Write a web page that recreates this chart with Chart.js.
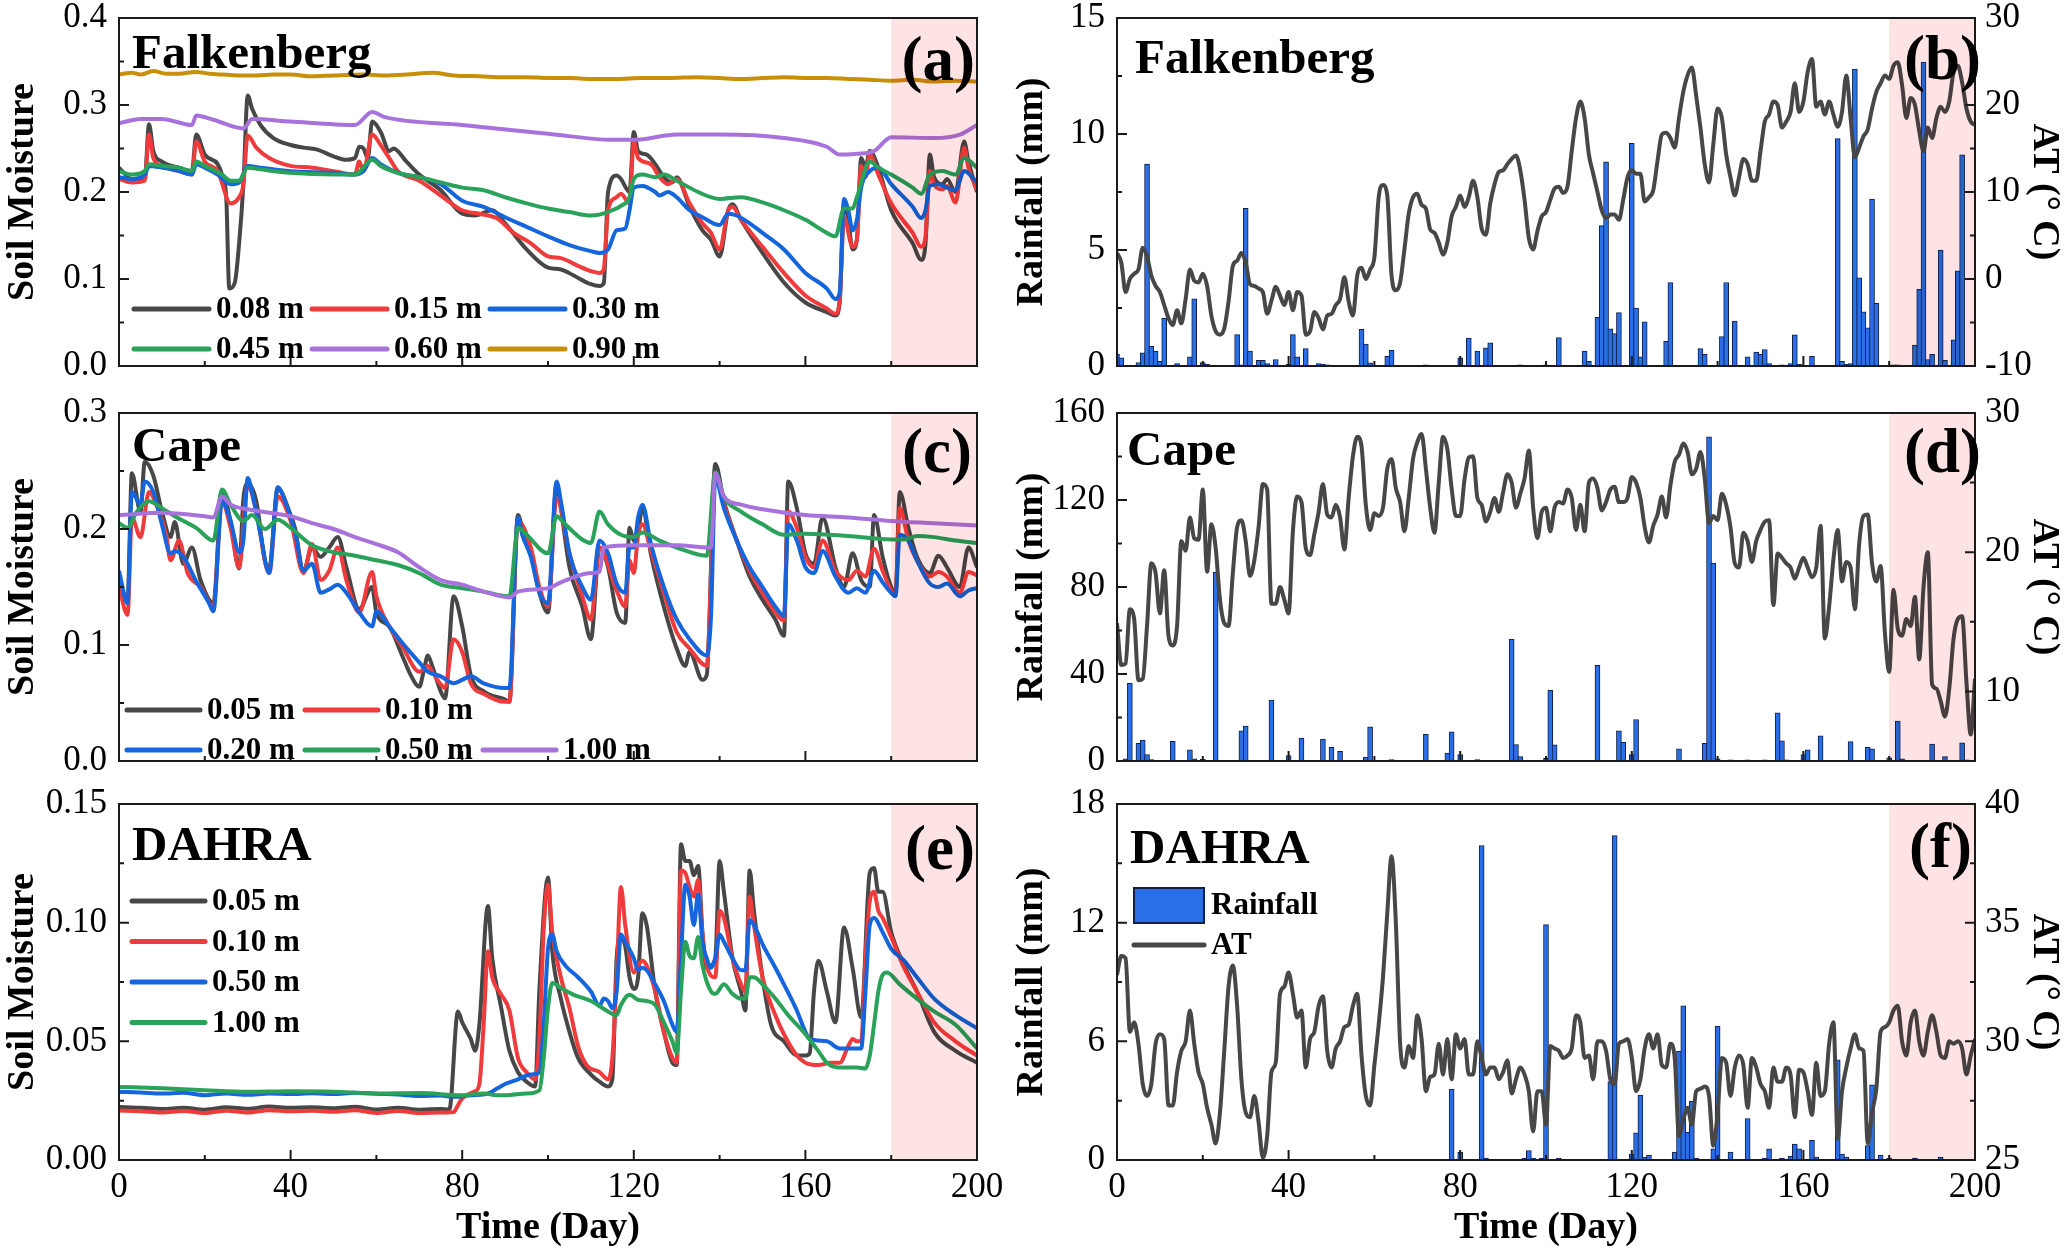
<!DOCTYPE html>
<html>
<head>
<meta charset="utf-8">
<title>Soil moisture, rainfall and air temperature</title>
<script src="https://cdn.jsdelivr.net/npm/chart.js@4.4.1/dist/chart.umd.min.js"></script>
<style>
  html, body { margin: 0; padding: 0; background: #fff; }
  body { width: 2067px; height: 1248px; position: relative; overflow: hidden; }
  canvas { position: absolute; }
</style>
</head>
<body>
<canvas id="pa"></canvas>
<canvas id="pb"></canvas>
<canvas id="pc"></canvas>
<canvas id="pd"></canvas>
<canvas id="pe"></canvas>
<canvas id="pf"></canvas>
<script>
// --- Data: [day, value] pairs ---

const fkDepths = ['0.08 m', '0.15 m', '0.30 m', '0.45 m', '0.60 m', '0.90 m'];
const cpDepths = ['0.05 m', '0.10 m', '0.20 m', '0.50 m', '1.00 m'];
const dhDepths = ['0.05 m', '0.10 m', '0.50 m', '1.00 m'];

// Falkenberg soil moisture
const fk08 = [[0,0.228],[3,0.215],[6,0.215],[7,0.278],[8,0.247],[10,0.235],[14,0.228],[17,0.224],[18,0.266],[20,0.243],[23,0.232],[24,0.220],[25,0.194],[25.7,0.089],[27,0.096],[28,0.141],[29,0.209],[30,0.311],[31,0.296],[33,0.277],[36,0.262],[40,0.254],[43,0.251],[46,0.249],[50,0.241],[53,0.237],[55,0.239],[56,0.252],[57,0.250],[58,0.239],[59,0.281],[61,0.269],[63,0.247],[64,0.250],[67,0.235],[70,0.220],[75,0.202],[80,0.175],[83,0.173],[87,0.179],[90,0.164],[95,0.134],[100,0.113],[103,0.111],[106,0.104],[110,0.094],[112,0.092],[113,0.095],[114,0.200],[116,0.219],[117,0.215],[119,0.200],[120,0.269],[121,0.247],[123,0.243],[125,0.232],[127,0.217],[129,0.211],[130,0.217],[133,0.183],[136,0.156],[138,0.145],[140,0.126],[142,0.179],[143,0.186],[145,0.168],[150,0.130],[155,0.096],[160,0.073],[165,0.062],[167,0.058],[168,0.073],[169,0.186],[170,0.168],[171,0.134],[172,0.145],[173,0.239],[174,0.228],[175,0.247],[177,0.228],[180,0.179],[185,0.141],[187,0.122],[188,0.141],[189,0.243],[190,0.217],[192,0.209],[193,0.215],[195,0.200],[197,0.258],[198,0.235],[200,0.200]];
const fk15 = [[0,0.215],[3,0.211],[6,0.213],[7,0.266],[8,0.239],[10,0.230],[14,0.224],[17,0.220],[18,0.258],[20,0.235],[23,0.224],[26,0.187],[28,0.194],[29,0.209],[30,0.265],[32,0.251],[35,0.239],[40,0.230],[45,0.228],[50,0.224],[55,0.220],[56,0.235],[57,0.224],[59,0.266],[61,0.254],[63,0.239],[65,0.224],[70,0.213],[75,0.196],[80,0.179],[84,0.175],[88,0.170],[92,0.153],[96,0.141],[100,0.126],[103,0.124],[107,0.115],[110,0.109],[112,0.107],[113,0.111],[114,0.179],[116,0.194],[117,0.198],[119,0.187],[120,0.258],[121,0.239],[124,0.232],[126,0.217],[128,0.209],[130,0.215],[133,0.187],[136,0.164],[138,0.153],[140,0.134],[142,0.179],[143,0.183],[145,0.168],[150,0.137],[155,0.107],[160,0.081],[165,0.066],[167,0.060],[168,0.077],[169,0.171],[171,0.137],[172,0.145],[173,0.230],[174,0.217],[175,0.243],[177,0.220],[180,0.187],[185,0.153],[187,0.137],[188,0.149],[189,0.224],[190,0.209],[192,0.203],[193,0.207],[195,0.188],[197,0.251],[198,0.228],[200,0.202]];
const fk30 = [[0,0.217],[3,0.215],[6,0.220],[7,0.230],[10,0.228],[14,0.224],[17,0.220],[18,0.232],[20,0.228],[23,0.220],[26,0.209],[28,0.211],[30,0.230],[33,0.228],[40,0.224],[50,0.222],[55,0.220],[57,0.224],[59,0.239],[61,0.232],[65,0.222],[70,0.217],[75,0.209],[80,0.190],[85,0.183],[90,0.171],[95,0.160],[100,0.149],[105,0.139],[110,0.132],[112,0.130],[114,0.134],[116,0.156],[118,0.158],[119,0.179],[120,0.205],[122,0.207],[125,0.200],[126,0.196],[128,0.200],[130,0.194],[133,0.179],[136,0.171],[140,0.162],[142,0.175],[144,0.173],[147,0.164],[150,0.153],[155,0.134],[160,0.107],[165,0.089],[167,0.077],[168,0.085],[169,0.192],[170,0.179],[171,0.156],[172,0.168],[173,0.205],[175,0.224],[177,0.228],[180,0.209],[185,0.183],[187,0.170],[188,0.179],[189,0.207],[191,0.209],[193,0.205],[195,0.202],[197,0.224],[200,0.211]];
const fk45 = [[0,0.224],[3,0.220],[6,0.224],[7,0.232],[10,0.230],[14,0.228],[17,0.224],[18,0.235],[20,0.230],[24,0.220],[26,0.213],[28,0.213],[30,0.228],[33,0.226],[40,0.222],[50,0.220],[55,0.220],[59,0.237],[61,0.230],[65,0.222],[70,0.217],[75,0.211],[80,0.205],[85,0.202],[90,0.194],[95,0.187],[100,0.181],[105,0.177],[110,0.173],[112,0.174],[115,0.179],[117,0.184],[119,0.194],[120,0.215],[122,0.220],[125,0.217],[127,0.220],[130,0.213],[135,0.200],[140,0.192],[145,0.194],[150,0.188],[155,0.179],[160,0.168],[165,0.153],[167,0.149],[169,0.181],[171,0.181],[172,0.194],[175,0.235],[177,0.228],[180,0.220],[185,0.205],[187,0.198],[189,0.220],[192,0.224],[195,0.220],[197,0.239],[200,0.228]];
const fk60 = [[0,0.279],[5,0.284],[10,0.284],[17,0.277],[18,0.288],[22,0.283],[29,0.273],[31,0.284],[40,0.281],[55,0.277],[59,0.292],[62,0.286],[80,0.277],[100,0.267],[115,0.260],[120,0.260],[130,0.266],[140,0.266],[155,0.262],[165,0.252],[168,0.243],[172,0.244],[176,0.247],[180,0.263],[190,0.262],[196,0.266],[200,0.277]];
const fk90 = [[0,0.335],[3,0.337],[5,0.335],[8,0.339],[11,0.336],[14,0.336],[18,0.338],[21,0.336],[24,0.335],[28,0.334],[32,0.334],[36,0.335],[40,0.335],[45,0.333],[50,0.334],[57,0.335],[62,0.334],[67,0.335],[73,0.337],[78,0.334],[84,0.333],[90,0.332],[95,0.332],[100,0.331],[105,0.331],[110,0.330],[116,0.330],[122,0.331],[128,0.331],[135,0.332],[140,0.331],[145,0.330],[150,0.331],[155,0.332],[160,0.331],[165,0.331],[170,0.330],[175,0.329],[180,0.328],[185,0.329],[190,0.327],[195,0.328],[200,0.327]];

// Cape soil moisture
const cp05 = [[0,0.156],[2,0.139],[3,0.248],[5,0.215],[6,0.258],[8,0.246],[10,0.215],[12,0.193],[13,0.206],[15,0.170],[17,0.184],[19,0.156],[22,0.136],[24,0.231],[26,0.207],[28,0.166],[29,0.226],[30,0.239],[32,0.224],[34,0.173],[35,0.166],[37,0.235],[40,0.212],[41,0.201],[43,0.164],[45,0.184],[47,0.176],[49,0.184],[51,0.193],[53,0.167],[56,0.131],[59,0.150],[60,0.128],[63,0.116],[66,0.091],[68,0.074],[70,0.064],[71,0.077],[72,0.091],[73,0.082],[75,0.060],[76,0.054],[78,0.142],[80,0.116],[82,0.074],[85,0.060],[90,0.053],[91,0.051],[93,0.212],[94,0.201],[96,0.181],[98,0.145],[100,0.128],[102,0.238],[103,0.218],[105,0.167],[108,0.133],[110,0.105],[112,0.184],[114,0.167],[116,0.128],[118,0.119],[119,0.201],[120,0.190],[121,0.198],[122,0.218],[124,0.178],[127,0.133],[130,0.097],[132,0.082],[133,0.094],[136,0.070],[137,0.074],[139,0.256],[141,0.224],[144,0.190],[147,0.159],[150,0.139],[153,0.122],[155,0.108],[156,0.241],[158,0.218],[160,0.179],[162,0.170],[164,0.210],[167,0.167],[169,0.150],[171,0.179],[173,0.156],[175,0.150],[176,0.212],[178,0.176],[180,0.150],[181,0.144],[182,0.232],[184,0.201],[186,0.176],[189,0.162],[191,0.177],[193,0.167],[196,0.150],[198,0.184],[200,0.167]];
const cp10 = [[0,0.150],[2,0.126],[3,0.210],[5,0.193],[7,0.232],[9,0.218],[11,0.195],[12,0.173],[14,0.190],[16,0.162],[19,0.150],[22,0.133],[24,0.224],[26,0.201],[28,0.167],[30,0.238],[32,0.215],[35,0.162],[37,0.228],[40,0.207],[43,0.162],[45,0.187],[47,0.156],[49,0.164],[51,0.184],[53,0.156],[56,0.128],[59,0.163],[60,0.142],[63,0.116],[66,0.099],[70,0.077],[72,0.082],[73,0.077],[75,0.066],[76,0.063],[78,0.105],[80,0.094],[82,0.067],[85,0.058],[90,0.051],[91,0.051],[93,0.207],[96,0.184],[98,0.150],[100,0.133],[102,0.227],[105,0.179],[108,0.142],[110,0.122],[112,0.184],[116,0.147],[118,0.133],[119,0.173],[120,0.162],[121,0.195],[122,0.204],[124,0.181],[127,0.145],[130,0.111],[133,0.097],[137,0.082],[139,0.246],[141,0.221],[144,0.190],[147,0.164],[150,0.145],[153,0.128],[155,0.121],[156,0.215],[158,0.201],[160,0.176],[162,0.167],[164,0.190],[167,0.164],[170,0.156],[172,0.164],[174,0.159],[176,0.183],[178,0.164],[180,0.147],[181,0.144],[182,0.218],[184,0.190],[186,0.173],[189,0.159],[191,0.163],[193,0.159],[196,0.145],[198,0.163],[200,0.160]];
const cp20 = [[0,0.164],[2,0.136],[3,0.232],[5,0.221],[6,0.241],[8,0.232],[10,0.204],[12,0.179],[13,0.181],[15,0.176],[18,0.155],[21,0.136],[22,0.129],[24,0.224],[26,0.207],[28,0.180],[29,0.190],[30,0.244],[31,0.232],[33,0.195],[35,0.162],[37,0.236],[39,0.221],[41,0.198],[43,0.164],[45,0.170],[47,0.145],[49,0.148],[51,0.152],[53,0.145],[56,0.128],[59,0.116],[60,0.129],[63,0.116],[66,0.102],[70,0.085],[72,0.077],[75,0.073],[78,0.067],[80,0.070],[82,0.073],[85,0.067],[90,0.063],[91,0.063],[93,0.210],[94,0.195],[96,0.176],[98,0.145],[100,0.136],[102,0.241],[103,0.224],[105,0.179],[108,0.150],[110,0.139],[112,0.190],[114,0.179],[116,0.153],[118,0.145],[119,0.184],[120,0.184],[121,0.210],[122,0.221],[124,0.187],[127,0.150],[130,0.122],[133,0.105],[137,0.091],[138,0.125],[139,0.244],[141,0.218],[144,0.190],[147,0.167],[150,0.150],[153,0.133],[155,0.125],[156,0.204],[158,0.190],[160,0.167],[162,0.162],[164,0.181],[167,0.159],[170,0.145],[172,0.149],[174,0.145],[176,0.164],[178,0.154],[180,0.145],[181,0.142],[182,0.195],[184,0.190],[186,0.173],[189,0.153],[191,0.150],[193,0.153],[196,0.142],[198,0.147],[200,0.149]];
const cp50 = [[0,0.205],[2,0.201],[4,0.214],[7,0.224],[10,0.218],[13,0.211],[18,0.201],[22,0.190],[24,0.234],[26,0.221],[29,0.207],[31,0.212],[34,0.200],[37,0.208],[40,0.201],[45,0.186],[50,0.180],[55,0.177],[60,0.173],[65,0.169],[70,0.162],[75,0.152],[80,0.149],[85,0.146],[91,0.142],[93,0.201],[95,0.195],[100,0.179],[102,0.211],[104,0.204],[110,0.188],[112,0.215],[114,0.204],[117,0.195],[120,0.193],[122,0.197],[126,0.190],[130,0.184],[137,0.177],[139,0.249],[141,0.228],[145,0.215],[150,0.204],[155,0.195],[160,0.196],[170,0.194],[180,0.191],[183,0.191],[186,0.194],[190,0.193],[195,0.190],[200,0.188]];
const cp100 = [[0,0.212],[10,0.214],[20,0.211],[22,0.210],[24,0.228],[26,0.221],[30,0.217],[40,0.211],[45,0.205],[50,0.200],[55,0.193],[60,0.187],[65,0.180],[70,0.167],[75,0.156],[80,0.152],[85,0.146],[91,0.141],[93,0.146],[100,0.149],[103,0.154],[110,0.162],[112,0.163],[113,0.184],[120,0.186],[130,0.186],[138,0.184],[139,0.248],[141,0.228],[145,0.221],[150,0.217],[160,0.212],[170,0.210],[180,0.207],[190,0.205],[200,0.203]];

// DAHRA soil moisture
const dh05 = [[0,0.0223],[5,0.0220],[10,0.0215],[15,0.0220],[20,0.0212],[25,0.0222],[30,0.0216],[35,0.0225],[40,0.0220],[45,0.0222],[50,0.0218],[55,0.0224],[60,0.0213],[65,0.0220],[70,0.0212],[75,0.0215],[77,0.0212],[79,0.0626],[80,0.058],[82,0.051],[83,0.046],[84,0.057],[86,0.107],[87,0.085],[89,0.065],[91,0.046],[93,0.037],[95,0.033],[97,0.031],[98,0.072],[100,0.119],[101,0.088],[103,0.068],[105,0.054],[107,0.043],[110,0.036],[112,0.033],[114,0.031],[115,0.034],[116,0.085],[117,0.094],[118,0.090],[119,0.077],[120,0.072],[121,0.077],[122,0.104],[123,0.099],[125,0.071],[127,0.054],[129,0.041],[130,0.040],[131,0.133],[132,0.126],[133,0.126],[134,0.120],[135,0.124],[136,0.096],[137,0.081],[139,0.085],[140,0.126],[141,0.113],[143,0.085],[145,0.071],[146,0.063],[147,0.122],[148,0.105],[150,0.077],[152,0.057],[155,0.050],[158,0.044],[160,0.044],[161,0.045],[162,0.071],[163,0.084],[165,0.071],[167,0.058],[169,0.098],[171,0.081],[173,0.060],[175,0.121],[176,0.123],[177,0.113],[178,0.113],[180,0.096],[183,0.082],[186,0.071],[190,0.054],[195,0.046],[200,0.041]];
const dh10 = [[0,0.0209],[5,0.0205],[10,0.0200],[15,0.0206],[20,0.0198],[25,0.0208],[30,0.0200],[35,0.0210],[40,0.0205],[45,0.0207],[50,0.0203],[55,0.0210],[60,0.0198],[65,0.0206],[70,0.0198],[75,0.0200],[78,0.0202],[79,0.0230],[80,0.026],[83,0.029],[84,0.032],[85,0.057],[86,0.088],[87,0.077],[89,0.070],[91,0.063],[93,0.043],[95,0.037],[97,0.034],[98,0.051],[99,0.097],[100,0.116],[101,0.096],[103,0.077],[105,0.064],[107,0.048],[109,0.040],[112,0.037],[114,0.034],[115,0.043],[116,0.077],[117,0.115],[118,0.099],[120,0.079],[121,0.082],[122,0.084],[123,0.082],[125,0.071],[127,0.054],[129,0.043],[130,0.041],[131,0.122],[132,0.121],[133,0.115],[134,0.111],[135,0.118],[136,0.095],[137,0.082],[139,0.077],[140,0.105],[141,0.102],[143,0.085],[145,0.074],[146,0.071],[147,0.111],[148,0.099],[150,0.077],[153,0.061],[155,0.053],[158,0.044],[160,0.041],[163,0.040],[166,0.041],[168,0.041],[170,0.048],[171,0.051],[172,0.050],[173,0.050],[174,0.085],[175,0.109],[176,0.113],[177,0.105],[178,0.102],[180,0.094],[183,0.081],[186,0.071],[190,0.058],[195,0.050],[200,0.044]];
const dh50 = [[0,0.0287],[5,0.0284],[10,0.0280],[15,0.0283],[20,0.0273],[25,0.0280],[30,0.0275],[35,0.0280],[40,0.0278],[45,0.0281],[50,0.0278],[55,0.0283],[60,0.0279],[65,0.0276],[70,0.0270],[75,0.0272],[78,0.0266],[82,0.0273],[86,0.0280],[88,0.030],[90,0.032],[93,0.034],[96,0.036],[98,0.037],[99,0.057],[100,0.089],[101,0.095],[102,0.088],[104,0.082],[107,0.077],[110,0.071],[112,0.065],[113,0.068],[114,0.067],[115,0.064],[116,0.071],[117,0.095],[118,0.092],[120,0.085],[121,0.080],[122,0.081],[123,0.080],[125,0.074],[127,0.067],[129,0.057],[130,0.054],[131,0.085],[132,0.116],[133,0.111],[134,0.099],[135,0.112],[136,0.092],[137,0.085],[138,0.081],[139,0.085],[140,0.095],[141,0.092],[143,0.085],[145,0.080],[146,0.080],[147,0.101],[148,0.099],[150,0.091],[153,0.081],[155,0.074],[158,0.063],[160,0.054],[161,0.051],[165,0.050],[168,0.047],[170,0.047],[173,0.047],[174,0.071],[175,0.099],[176,0.102],[178,0.096],[180,0.089],[183,0.084],[186,0.077],[190,0.068],[195,0.061],[200,0.0555]];
const dh100 = [[0,0.0308],[10,0.0302],[20,0.0294],[30,0.0288],[40,0.0290],[50,0.0288],[60,0.0280],[70,0.0282],[80,0.0273],[85,0.0280],[88,0.0273],[90,0.0273],[95,0.0280],[98,0.0294],[99,0.043],[100,0.064],[101,0.0746],[103,0.0725],[106,0.0696],[110,0.067],[114,0.0626],[116,0.061],[117,0.0653],[119,0.0696],[121,0.0675],[123,0.067],[125,0.0653],[127,0.058],[129,0.050],[130,0.045],[131,0.071],[132,0.092],[133,0.086],[134,0.085],[135,0.094],[136,0.082],[138,0.071],[139,0.070],[141,0.074],[143,0.070],[145,0.068],[146,0.068],[147,0.077],[148,0.077],[150,0.074],[153,0.068],[156,0.061],[160,0.053],[163,0.046],[165,0.041],[168,0.039],[172,0.039],[174,0.0386],[175,0.044],[176,0.057],[177,0.071],[178,0.078],[179,0.079],[182,0.074],[186,0.068],[190,0.0626],[195,0.057],[200,0.047]];

// Daily rainfall (mm), only days with rain
const rainFk = [[0,0.5],[1,0.35],[5,0.15],[6,0.57],[7,8.7],[8,0.85],[9,0.64],[10,0.2],[11,2.05],[14,0.1],[17,0.4],[18,2.9],[20,0.15],[21,0.08],[28,1.35],[29,0.05],[30,6.8],[31,0.64],[33,0.24],[34,0.24],[35,0.1],[37,0.28],[40,0.07],[41,1.35],[42,0.4],[44,0.75],[47,0.1],[48,0.07],[49,0.05],[57,1.58],[58,0.95],[59,0.14],[63,0.42],[64,0.68],[72,0.05],[80,0.35],[82,1.2],[84,0.64],[86,0.78],[87,1.0],[94,0.05],[100,0.05],[103,1.23],[109,0.64],[110,0.2],[112,2.1],[113,6.05],[114,8.8],[115,1.6],[116,1.4],[117,2.3],[120,9.6],[121,2.5],[122,0.4],[123,1.9],[128,1.06],[129,3.6],[136,0.75],[137,0.5],[141,1.27],[142,3.6],[144,1.94],[147,0.4],[149,0.6],[150,0.5],[151,0.71],[152,0.1],[155,0.05],[157,0.1],[158,1.34],[159,0.07],[162,0.42],[168,9.8],[169,0.2],[170,0.07],[171,0.1],[172,12.8],[173,3.8],[174,2.33],[175,1.65],[176,7.2],[177,2.7],[181,0.05],[182,0.05],[186,0.9],[187,3.3],[188,13.1],[189,0.28],[190,0.5],[192,5.0],[193,0.24],[195,1.13],[196,4.1],[197,9.1]];
const rainCp = [[2,1],[3,35.7],[5,8.1],[6,9.6],[7,3],[8,0.6],[13,9.0],[17,5.1],[18,1],[20,0.8],[23,86.9],[29,13.9],[30,16.1],[36,28.0],[40,2.5],[43,10.5],[48,10.1],[50,6.3],[52,4.4],[58,1.8],[59,15.7],[64,0.6],[72,12.3],[77,3.6],[78,13.4],[80,3.0],[84,0.6],[92,56],[93,7.5],[94,2],[100,1.2],[101,32.5],[102,7.4],[112,44],[117,13.9],[118,8.6],[120,3.0],[121,19.1],[131,5.6],[137,8.1],[138,149],[139,91],[140,1],[143,0.5],[147,0.5],[151,0.5],[154,22.1],[155,9.3],[156,0.5],[160,3.0],[161,5.1],[164,11.6],[171,8.9],[175,6.3],[176,5.6],[180,1.5],[182,18.4],[183,1],[190,7.8],[193,2],[197,8.3],[198,0.5]];
const rainDh = [[78,3.57],[80,0.4],[85,15.9],[86,0.1],[95,0.1],[96,0.48],[97,0.1],[99,0.1],[100,11.9],[103,0.1],[115,3.96],[116,16.4],[120,0.3],[121,1.37],[122,3.28],[123,0.15],[124,0.25],[130,0.4],[131,5.5],[132,7.8],[133,1.4],[134,2.97],[135,0.1],[139,0.56],[140,6.76],[143,0.4],[147,2.1],[151,0.1],[152,0.56],[155,0.1],[157,0.2],[158,0.8],[159,0.56],[162,1.0],[163,0.15],[168,5.06],[169,0.3],[170,0.15],[175,0.73],[176,3.8],[178,0.25],[180,0.1],[186,0.1],[192,0.15]];

// Daily air temperature (deg C), index = day 0..200
const atFk = [3.0,1.9,-1.5,0.0,0.6,1.1,3.6,2.6,0.4,-0.8,
  -1.5,-3.0,-4.5,-5.3,-3.6,-5.1,-2.3,1.1,-0.2,-0.4,
  0.6,-0.8,-4.2,-6.0,-6.4,-5.7,-2.6,1.5,2.1,3.0,
  1.9,-0.6,-0.8,-1.1,-1.5,-4.0,-2.5,-0.9,-1.9,-3.0,
  -1.5,-3.6,-1.5,-1.9,-6.4,-6.0,-3.8,-4.5,-5.8,-4.2,
  -4.0,-3.0,-2.3,0.2,-2.6,-4.2,0.4,1.3,0.0,1.1,
  2.5,9.4,10.8,9.6,0.4,-1.3,-0.4,3.4,7.5,9.4,
  9.8,8.5,8.1,5.7,5.3,4.2,2.8,4.2,7.2,8.3,
  9.6,8.3,9.4,11.3,9.4,5.8,5.1,8.7,10.9,12.3,
  12.5,13.2,13.8,14.2,12.5,9.1,4.7,3.4,5.5,7.2,
  7.7,9.1,10.4,10.6,9.9,10.6,14.7,18.5,20.4,18.5,
  14.3,12.1,10.0,7.9,7.0,7.4,7.4,6.8,9.1,11.7,
  12.5,12.1,12.1,8.9,9.4,10.2,13.6,16.6,16.8,16.2,
  15.1,18.5,21.5,23.4,24.3,21.1,17.4,13.2,11.1,15.5,
  19.6,18.5,14.3,11.7,9.6,11.7,13.8,13.2,11.3,11.3,
  14.7,18.1,18.9,20.4,20.0,17.4,18.1,19.2,22.5,19.2,
  20.4,23.8,25.3,19.8,20.4,18.9,20.4,18.9,17.5,19.2,
  23.4,18.5,14.0,15.1,16.4,17.2,19.6,21.5,22.5,23.4,
  23.0,24.5,24.9,22.3,18.5,20.8,20.0,17.0,14.7,17.4,
  16.2,18.5,19.8,19.2,20.4,23.8,24.5,22.6,19.6,18.1,17.7];
const atCp = [14.9,11.9,12.0,15.9,15.2,10.8,10.9,14.7,19.2,18.5,
  15.6,18.7,14.0,13.3,14.7,20.8,20.1,22.5,21.0,20.9,
  24.5,18.6,22.0,20.3,16.6,14.9,14.7,18.5,21.8,22.3,
  20.8,18.3,19.4,21.8,24.9,24.5,16.3,16.3,17.5,16.6,
  15.6,21.5,24.0,23.6,20.3,19.8,21.3,22.9,24.9,22.7,
  22.5,23.4,22.5,20.2,23.9,26.9,28.3,27.6,23.4,21.6,
  22.8,22.6,23.2,26.0,26.7,24.6,23.6,21.5,23.9,26.7,
  27.9,28.5,26.0,23.2,21.4,25.0,28.3,27.4,24.6,22.6,
  22.6,25.2,26.8,26.9,23.9,23.4,22.2,22.9,23.9,22.9,
  24.3,25.6,25.0,23.2,24.2,25.3,27.3,23.2,21.0,22.9,
  23.2,21.5,23.2,23.6,23.5,24.5,23.9,21.6,23.4,21.5,
  25.0,25.3,24.6,23.0,23.6,24.5,24.7,23.6,23.6,23.9,
  25.4,25.0,23.9,21.8,20.7,21.9,22.7,24.0,22.5,24.8,
  26.5,27.0,27.8,27.2,25.6,26.0,27.2,25.3,22.1,22.6,
  22.3,24.2,23.4,21.8,19.2,18.9,21.4,20.8,19.3,20.8,
  21.6,22.2,22.3,16.2,19.9,19.6,19.2,18.9,18.1,18.9,
  19.6,18.9,18.2,18.9,21.9,13.8,16.1,19.5,21.6,17.9,
  19.3,18.9,15.9,20.6,22.6,22.7,19.2,17.9,19.0,14.2,
  11.4,17.3,14.5,14.0,15.2,14.7,16.8,12.3,17.5,20.0,
  10.5,10.2,9.3,8.2,10.2,13.8,15.2,15.4,10.7,6.9,10.9];
const atDh = [32.8,33.6,33.5,30.4,30.8,29.9,28.2,27.7,28.2,29.9,
  30.3,30.1,27.3,27.3,28.7,29.6,30.0,31.3,29.9,28.7,
  28.2,27.2,26.5,25.7,27.0,29.6,32.3,33.2,31.5,28.4,
  27.0,26.8,27.7,26.6,25.1,26.0,28.7,29.1,32.0,32.3,
  32.9,32.0,31.0,31.3,28.9,30.1,30.4,31.5,31.9,29.6,
  28.9,29.7,30.0,30.6,30.7,31.5,32.0,29.4,27.7,27.3,
  29.0,30.7,32.7,35.4,37.8,35.0,29.9,28.9,29.8,29.3,
  31.1,30.1,27.9,28.5,28.6,29.9,28.6,30.1,28.4,30.3,
  29.7,30.1,28.6,28.6,30.0,29.3,28.6,28.9,28.9,28.4,
  28.7,29.2,27.8,28.4,28.9,28.6,27.9,26.2,27.9,27.9,
  26.5,29.8,29.7,29.6,29.3,29.4,29.7,31.1,30.8,29.3,
  29.4,28.4,30.0,30.0,29.6,28.4,28.2,29.9,30.0,30.1,
  29.3,27.9,28.4,29.7,30.3,29.7,30.3,29.0,28.9,29.9,
  29.3,26.0,26.7,27.2,26.5,27.9,28.0,28.1,27.7,25.6,
  27.0,29.3,29.1,27.7,28.9,29.4,29.0,27.2,29.3,28.9,
  28.2,27.9,27.2,28.9,28.3,28.3,28.9,28.6,26.8,28.8,
  28.7,27.9,26.9,29.1,27.7,27.9,29.9,30.8,25.9,27.9,
  28.9,29.7,30.3,29.7,29.6,25.7,27.0,28.0,30.4,30.6,
  30.8,31.3,31.5,30.0,29.4,30.8,31.3,30.0,29.4,30.4,
  31.1,30.4,29.4,29.3,30.0,29.9,30.0,29.7,28.6,29.4,30.1];

// shaded forecast window
const SHADE_FROM = 180, SHADE_TO = 200;

// --- Styling ---
const SM_COLORS = ['#474747', '#ef3b3b', '#1565dc', '#2aa25a', '#a872dc', '#c8900a'];
const CP_COLORS = ['#474747', '#ef3b3b', '#1565dc', '#2aa25a', '#a872dc'];
const DH_COLORS = ['#474747', '#ef3b3b', '#1565dc', '#2aa25a'];
const AT_COLOR = '#474747';
const RAIN_FILL = '#2a6ee8';
const RAIN_EDGE = '#10204a';
const SERIF = "'Liberation Serif', 'Times New Roman', serif";

Chart.defaults.font.family = SERIF;
Chart.defaults.color = '#000';

const tickFont = { family: SERIF, size: 35 };
const titleFont = { family: SERIF, size: 38, weight: 'bold' };

const ROWS = [[15, 369], [410, 764], [801, 1160]];

const toXY = pairs => pairs.map(([x, y]) => ({ x, y }));
const isMultiple = (v, step) => Math.abs(v / step - Math.round(v / step)) < 1e-6;

// inward tick marks, major 10px / minor 5px
function drawTicks(ctx, scale, side, major, minor, a) {
    const n = Math.round((scale.max - scale.min) / minor);
    ctx.beginPath();
    for (let i = 0; i <= n; i++) {
        const v = scale.min + i * minor;
        const len = isMultiple(v, major) ? 10 : 5;
        const p = scale.getPixelForValue(v);
        if (side === 'bottom') { ctx.moveTo(p, a.bottom); ctx.lineTo(p, a.bottom - len); }
        if (side === 'left') { ctx.moveTo(a.left, p); ctx.lineTo(a.left + len, p); }
        if (side === 'right') { ctx.moveTo(a.right, p); ctx.lineTo(a.right - len, p); }
    }
    ctx.stroke();
}

function drawLegend(chart, lg) {
    const { ctx, chartArea: a } = chart;
    ctx.font = 'bold 31px ' + SERIF;
    ctx.textAlign = 'left';
    ctx.textBaseline = 'middle';
    lg.rows.forEach((row, r) => {
        row.forEach((di, c) => {
            const ds = chart.data.datasets[di];
            const x = a.left + lg.x + c * lg.dx;
            const y = a.top + lg.y + r * lg.dy;
            if (ds.type === 'bar') {
                ctx.fillStyle = ds.backgroundColor;
                ctx.fillRect(x, y - 17, lg.len, 35);
                ctx.strokeStyle = ds.borderColor;
                ctx.lineWidth = 2;
                ctx.strokeRect(x, y - 17, lg.len, 35);
            } else {
                ctx.strokeStyle = ds.borderColor;
                ctx.lineWidth = 5;
                ctx.lineCap = 'round';
                ctx.beginPath();
                ctx.moveTo(x, y);
                ctx.lineTo(x + lg.len, y);
                ctx.stroke();
            }
            ctx.fillStyle = '#000';
            ctx.fillText(ds.label, x + lg.len + 7, y + 1);
        });
    });
}

const panelDeco = {
    id: 'panelDeco',
    afterDatasetsDraw(chart) {
        const { ctx, chartArea: a, scales } = chart;
        const x0 = scales.x.getPixelForValue(SHADE_FROM);
        const x1 = scales.x.getPixelForValue(SHADE_TO);
        ctx.save();
        ctx.globalCompositeOperation = 'multiply';
        ctx.fillStyle = '#fde3e3';
        ctx.fillRect(x0, a.top, x1 - x0, a.bottom - a.top);
        ctx.restore();
    },
    afterDraw(chart, args, o) {
        const { ctx, chartArea: a, scales } = chart;
        ctx.save();
        ctx.strokeStyle = '#1a1a1a';
        ctx.lineWidth = 2;
        ctx.strokeRect(a.left, a.top, a.right - a.left, a.bottom - a.top);
        drawTicks(ctx, scales.x, 'bottom', 40, 20, a);
        drawTicks(ctx, scales.y, 'left', o.yMajor, o.yMinor, a);
        if (scales.y1) drawTicks(ctx, scales.y1, 'right', o.y1Major, o.y1Minor, a);

        ctx.fillStyle = '#000';
        ctx.textBaseline = 'alphabetic';
        ctx.textAlign = 'left';
        ctx.font = 'bold 49px ' + SERIF;
        ctx.fillText(o.station, a.left + o.stationAt[0], a.top + o.stationAt[1]);
        ctx.textAlign = 'right';
        ctx.font = 'bold 63px ' + SERIF;
        ctx.fillText(o.letter, a.right + o.letterAt[0], a.top + o.letterAt[1]);
        if (o.legend) drawLegend(chart, o.legend);
        ctx.restore();
    }
};

function xScale(showLabels) {
    return {
        type: 'linear', min: 0, max: 200, offset: false,
        grid: { display: false, drawTicks: false, offset: false },
        border: { display: false },
        ticks: { display: showLabels, stepSize: 40, autoSkip: false, maxRotation: 0, padding: 7, font: tickFont, callback: v => String(v) },
        title: { display: showLabels, text: 'Time (Day)', font: titleFont, padding: { top: 0, bottom: -3 } }
    };
}

function yScale(position, min, max, major, digits, title, titlePad, tickPad) {
    return {
        type: 'linear', position, min, max,
        grid: { display: false, drawTicks: false },
        border: { display: false },
        ticks: { stepSize: major, autoSkip: false, padding: tickPad, font: tickFont,
                 callback: v => isMultiple(v, major) ? v.toFixed(digits) : '' },
        title: { display: true, text: title, font: titleFont, padding: { top: titlePad, bottom: 0 } }
    };
}

function smDatasets(labels, colors, series) {
    return series.map((s, i) => ({
        type: 'line', label: labels[i], data: toXY(s),
        borderColor: colors[i], backgroundColor: colors[i],
        borderWidth: 4, pointRadius: 0, cubicInterpolationMode: 'monotone',
        order: series.length - i
    }));
}

function climDatasets(rain, at) {
    return [
        { type: 'bar', label: 'Rainfall', data: toXY(rain), yAxisID: 'y',
          backgroundColor: RAIN_FILL, borderColor: RAIN_EDGE, borderWidth: 1,
          barThickness: 5, borderSkipped: 'start', order: 1 },
        { type: 'line', label: 'AT', data: at.map((v, d) => ({ x: d, y: v })), yAxisID: 'y1',
          borderColor: AT_COLOR, backgroundColor: AT_COLOR,
          borderWidth: 4, pointRadius: 0, cubicInterpolationMode: 'monotone', order: 0 }
    ];
}

function buildPanel(id, col, row, datasets, scales, deco) {
    const [pl, pr] = col === 0 ? [119, 977] : [1117, 1975];
    const [pt, pb] = ROWS[row];
    const cl = col === 0 ? 0 : 1000;
    const cw = col === 0 ? 1020 : 1067;
    const ct = pt - 30;
    const ch = (row === 2 ? 1248 : pb + 30) - ct;
    const cv = document.getElementById(id);
    cv.width = cw;
    cv.height = ch;
    cv.style.left = cl + 'px';
    cv.style.top = ct + 'px';

    scales.x.afterFit = s => { s.height = ct + ch - pb; };
    scales.y.afterFit = s => { s.width = pl - cl; };
    if (scales.y1) scales.y1.afterFit = s => { s.width = cl + cw - pr; };

    return new Chart(cv.getContext('2d'), {
        type: 'line',
        data: { datasets },
        options: {
            responsive: false,
            animation: false,
            events: [],
            devicePixelRatio: 1,
            layout: { padding: { top: pt - ct, left: 0, right: col === 0 ? cl + cw - pr : 0, bottom: 0 } },
            scales,
            plugins: { legend: { display: false }, tooltip: { enabled: false }, panelDeco: deco }
        },
        plugins: [panelDeco]
    });
}

// --- Panels ---
buildPanel('pa', 0, 0,
    smDatasets(fkDepths, SM_COLORS, [fk08, fk15, fk30, fk45, fk60, fk90]),
    { x: xScale(false), y: yScale('left', 0, 0.4, 0.1, 1, 'Soil Moisture', 0, 12) },
    { yMajor: 0.1, yMinor: 0.05, station: 'Falkenberg', stationAt: [13, 50], letter: '(a)', letterAt: [-2, 62],
      legend: { rows: [[0, 1, 2], [3, 4, 5]], x: 15, y: 291, dx: 178, dy: 40, len: 75 } });

buildPanel('pb', 1, 0,
    climDatasets(rainFk, atFk),
    { x: xScale(false), y: yScale('left', 0, 15, 5, 0, 'Rainfall (mm)', 9, 12),
      y1: yScale('right', -10, 30, 10, 0, 'AT (\u00B0 C)', 0, 10) },
    { yMajor: 5, yMinor: 2.5, y1Major: 10, y1Minor: 5, station: 'Falkenberg', stationAt: [18, 55], letter: '(b)', letterAt: [6, 61] });

buildPanel('pc', 0, 1,
    smDatasets(cpDepths, CP_COLORS, [cp05, cp10, cp20, cp50, cp100]),
    { x: xScale(false), y: yScale('left', 0, 0.3, 0.1, 1, 'Soil Moisture', 0, 12) },
    { yMajor: 0.1, yMinor: 0.05, station: 'Cape', stationAt: [13, 48], letter: '(c)', letterAt: [-5, 59],
      legend: { rows: [[0, 1], [2, 3, 4]], x: 8, y: 297, dx: 178, dy: 40, len: 73 } });

buildPanel('pd', 1, 1,
    climDatasets(rainCp, atCp),
    { x: xScale(false), y: yScale('left', 0, 160, 40, 0, 'Rainfall (mm)', 9, 12),
      y1: yScale('right', 5, 30, 10, 0, 'AT (\u00B0 C)', 0, 10) },
    { yMajor: 40, yMinor: 20, y1Major: 10, y1Minor: 5, station: 'Cape', stationAt: [10, 52], letter: '(d)', letterAt: [6, 59] });

buildPanel('pe', 0, 2,
    smDatasets(dhDepths, DH_COLORS, [dh05, dh10, dh50, dh100]),
    { x: xScale(true), y: yScale('left', 0, 0.15, 0.05, 2, 'Soil Moisture', 0, 12) },
    { yMajor: 0.05, yMinor: 0.025, station: 'DAHRA', stationAt: [13, 56], letter: '(e)', letterAt: [-2, 65],
      legend: { rows: [[0], [1], [2], [3]], x: 13, y: 97, dx: 0, dy: 40.5, len: 73 } });

buildPanel('pf', 1, 2,
    climDatasets(rainDh, atDh),
    { x: xScale(true), y: yScale('left', 0, 18, 6, 0, 'Rainfall (mm)', 9, 12),
      y1: yScale('right', 25, 40, 5, 0, 'AT (\u00B0 C)', 0, 10) },
    { yMajor: 6, yMinor: 3, y1Major: 5, y1Minor: 2.5, station: 'DAHRA', stationAt: [13, 59], letter: '(f)', letterAt: [-3, 63],
      legend: { rows: [[0], [1]], x: 17, y: 101, dx: 0, dy: 40, len: 70 } });
</script>
</body>
</html>
